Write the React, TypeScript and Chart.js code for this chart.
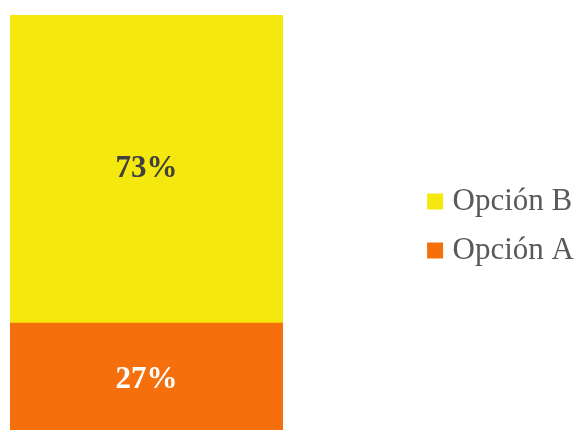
import React, { useEffect, useRef } from "react";
import { Chart, registerables } from "chart.js";

Chart.register(...registerables);

const categories = ["Total"];
const seriesNames = ["Opción A", "Opción B"];
const opcionA = [27];
const opcionB = [73];
const seriesColors = ["#F5700C", "#F5E80E"];
const labelColors = ["#FFFFFF", "#404040"];

const SERIF = "'Liberation Serif', 'Times New Roman', Times, serif";

const valueLabels = {
  id: "valueLabels",
  afterDatasetsDraw(chart: any) {
    const ctx = chart.ctx;
    ctx.save();
    ctx.font = `bold 31px ${SERIF}`;
    ctx.textAlign = "center";
    ctx.textBaseline = "middle";
    chart.data.datasets.forEach((ds: any, di: number) => {
      const meta = chart.getDatasetMeta(di);
      if (meta.hidden) return;
      meta.data.forEach((el: any, i: number) => {
        const p = el.getCenterPoint();
        ctx.fillStyle = labelColors[di];
        ctx.fillText(`${ds.data[i]}%`, p.x, p.y);
      });
    });
    ctx.restore();
  },
};

export default function App() {
  const ref = useRef<HTMLCanvasElement | null>(null);

  useEffect(() => {
    if (!ref.current) return;
    const chart = new Chart(ref.current, {
      type: "bar",
      data: {
        labels: categories,
        datasets: [
          {
            label: seriesNames[0],
            data: opcionA,
            backgroundColor: seriesColors[0],
            borderWidth: 0,
            barPercentage: 1,
            categoryPercentage: 1,
          },
          {
            label: seriesNames[1],
            data: opcionB,
            backgroundColor: seriesColors[1],
            borderWidth: 0,
            barPercentage: 1,
            categoryPercentage: 1,
          },
        ],
      },
      options: {
        animation: false,
        responsive: true,
        maintainAspectRatio: false,
        layout: { padding: { left: 10, top: 15, right: 6, bottom: 3 } },
        scales: {
          x: { stacked: true, display: false },
          y: { stacked: true, display: false, min: 0, max: 100 },
          spacer: {
            type: "linear",
            position: "right",
            display: false,
            afterFit: (axis: any) => {
              axis.width = 132;
            },
          },
        },
        plugins: {
          tooltip: { enabled: false },
          legend: {
            position: "right",
            align: "center",
            reverse: true,
            labels: {
              font: { family: SERIF, size: 31 },
              color: "#595959",
              padding: 18,
              boxWidth: 4,
              boxHeight: 4,
              generateLabels: (c: any) =>
                c.data.datasets.map((ds: any, i: number) => ({
                  text: ds.label,
                  fillStyle: seriesColors[i],
                  strokeStyle: seriesColors[i],
                  fontColor: "#595959",
                  lineWidth: 12,
                  lineJoin: "miter",
                  hidden: false,
                  datasetIndex: i,
                })),
            },
          },
        },
      } as any,
      plugins: [valueLabels],
    });
    return () => chart.destroy();
  }, []);

  return (
    <div
      style={{
        position: "fixed",
        left: 0,
        top: 0,
        width: 590,
        height: 440,
        background: "#ffffff",
      }}
    >
      <canvas ref={ref} />
    </div>
  );
}
